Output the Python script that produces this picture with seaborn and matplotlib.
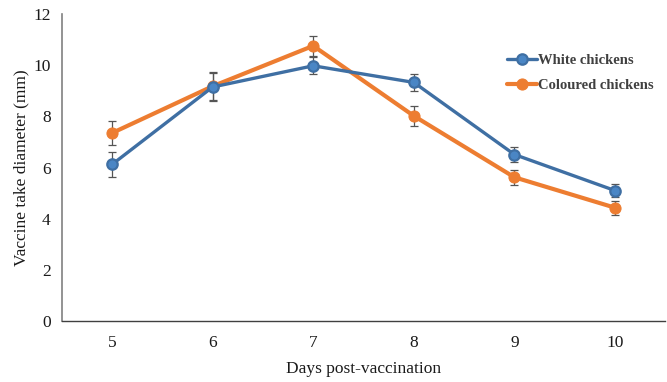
import matplotlib
matplotlib.use("Agg")
import matplotlib.pyplot as plt
import seaborn as sns
import pandas as pd

days = [5, 6, 7, 8, 9, 10]
white_mean = [6.12, 9.15, 9.98, 9.33, 6.51, 5.10]
white_err = [0.50, 0.55, 0.33, 0.33, 0.30, 0.25]
coloured_mean = [7.35, 9.18, 10.76, 8.02, 5.62, 4.43]
coloured_err = [0.47, 0.55, 0.40, 0.40, 0.30, 0.28]
series_names = ["White chickens", "Coloured chickens"]
y_ticks = [0, 2, 4, 6, 8, 10, 12]

sns.set_theme(style="white")
plt.rcParams["font.family"] = ["Liberation Serif", "DejaVu Serif"]

df = pd.DataFrame({
    "day": days * 2,
    "value": white_mean + coloured_mean,
    "group": [series_names[0]] * len(days) + [series_names[1]] * len(days),
})

fig = plt.figure(figsize=(6.67, 3.82), dpi=100)
ax = fig.add_axes([0.0925, 0.1597, 0.905, 0.8033])

blue = "#3f6fa3"
orange = "#ed7d31"

for mean, err in [(white_mean, white_err), (coloured_mean, coloured_err)]:
    ax.errorbar(days, mean, yerr=err, fmt="none", ecolor="#555555",
                elinewidth=0.9, capsize=3, capthick=0.9, zorder=1)

sns.lineplot(data=df[df.group == series_names[0]], x="day", y="value",
             color=blue, linewidth=2.4, marker="o", markersize=7.5,
             markerfacecolor="#4a86c5", markeredgecolor=blue, markeredgewidth=1.6,
             label=series_names[0], ax=ax, zorder=3)
sns.lineplot(data=df[df.group == series_names[1]], x="day", y="value",
             color=orange, linewidth=3.0, marker="o", markersize=8,
             markerfacecolor=orange, markeredgecolor=orange,
             label=series_names[1], ax=ax, zorder=2)

ax.set_xlim(4.5, 10.5)
ax.set_ylim(0, 12)
ax.set_xticks(days)
ax.set_xticklabels([str(d) for d in days])
ax.set_yticks(y_ticks)
ax.tick_params(axis="both", labelsize=12.5, colors="#1a1a1a", length=0)
ax.tick_params(axis="x", pad=10)
ax.tick_params(axis="y", pad=8)
ax.set_xlabel("Days post-vaccination", fontsize=12.5, color="#1a1a1a", labelpad=7)
ax.set_ylabel("Vaccine take diameter (mm)", fontsize=12.5, color="#1a1a1a", labelpad=3)

for s in ["top", "right"]:
    ax.spines[s].set_visible(False)
ax.spines["left"].set_color("#808080")
ax.spines["left"].set_linewidth(1.2)
ax.spines["bottom"].set_color("#404040")
ax.spines["bottom"].set_linewidth(1.0)

leg = ax.legend(loc="upper left", bbox_to_anchor=(0.752, 0.875),
                bbox_transform=fig.transFigure, frameon=False,
                prop={"weight": "bold", "size": 10.5}, handlelength=2.0,
                handletextpad=0.1, labelspacing=0.8, borderaxespad=0)
for t in leg.get_texts():
    t.set_color("#404040")

fig.savefig("out.png", dpi=100)
